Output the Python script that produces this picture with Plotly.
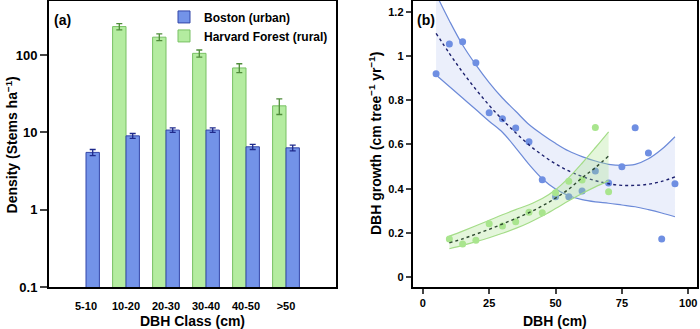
import plotly.graph_objects as go
from plotly.subplots import make_subplots

# ---------------- Panel (a) data ----------------
dbh_classes = ["5-10", "10-20", "20-30", "30-40", "40-50", ">50"]
boston_density = [5.5, 9.0, 10.7, 10.7, 6.5, 6.3]
boston_err = [0.5, 0.65, 0.7, 0.7, 0.5, 0.55]
harvard_density = [None, 233, 170, 105, 68, 22]
harvard_err = [0, 22, 17, 11, 9, 5]
density_ticks = [0.1, 1, 10, 100]
density_ticktext = ["0.1", "1", "10", "100"]

# ---------------- Panel (b) data ----------------
boston_dbh = [5, 10, 15, 20, 25, 30, 35, 40, 45, 50, 55, 60, 65, 70, 75, 80, 85, 90, 95]
boston_growth = [0.92, 1.055, 1.065, 0.97, 0.743, 0.716, 0.674, 0.612, 0.44, 0.363,
                 0.363, 0.389, 0.48, 0.425, 0.499, 0.676, 0.561, 0.172, 0.422]
harvard_dbh = [10, 15, 20, 25, 30, 35, 40, 45, 50, 55, 60, 65, 70]
harvard_growth = [0.172, 0.149, 0.167, 0.241, 0.231, 0.25, 0.293, 0.291, 0.381,
                  0.433, 0.439, 0.677, 0.386]

boston_fit = [1.103, 1.012, 0.927, 0.849, 0.777, 0.712, 0.653, 0.598, 0.552, 0.512,
              0.48, 0.455, 0.436, 0.422, 0.415, 0.415, 0.42, 0.433, 0.453]
boston_ci_hi = [1.28, 1.16, 1.05, 0.96, 0.88, 0.81, 0.75, 0.69, 0.645, 0.605,
                0.57, 0.545, 0.525, 0.51, 0.505, 0.51, 0.535, 0.578, 0.635]
boston_ci_lo = [0.914, 0.862, 0.81, 0.758, 0.705, 0.655, 0.585, 0.51, 0.445, 0.398,
                0.368, 0.35, 0.34, 0.334, 0.326, 0.318, 0.305, 0.29, 0.273]

harvard_fit = [0.155, 0.173, 0.194, 0.216, 0.24, 0.265, 0.291, 0.322, 0.357, 0.398,
               0.449, 0.495, 0.548]
harvard_ci_hi = [0.185, 0.208, 0.232, 0.257, 0.282, 0.305, 0.327, 0.355, 0.395, 0.45,
                 0.515, 0.585, 0.657]
harvard_ci_lo = [0.128, 0.143, 0.16, 0.178, 0.198, 0.22, 0.246, 0.276, 0.31, 0.345,
                 0.378, 0.408, 0.435]

growth_ticks = [0, 0.2, 0.4, 0.6, 0.8, 1, 1.2]
growth_ticktext = ["0", "0.2", "0.4", "0.6", "0.8", "1", "1.2"]
dbh_ticks = [0, 25, 50, 75, 100]

FONT = "Liberation Sans, Arial, Helvetica, sans-serif"
BLUE = "#7393e8"
BLUE_EDGE = "#3346a8"
GREEN = "#b4eca0"
GREEN_EDGE = "#79c064"
DOT_BLUE = "#6f8fe2"
DOT_GREEN = "#a9e58e"

fig = make_subplots(rows=1, cols=2)

# Panel (a) bars: Harvard first (left), Boston second (right)
fig.add_trace(go.Bar(
    x=dbh_classes, y=harvard_density, name="Harvard Forest (rural)",
    marker=dict(color=GREEN, line=dict(color=GREEN_EDGE, width=1)),
    error_y=dict(type="data", array=harvard_err, color="#4f8c3a", thickness=1.3, width=3),
), row=1, col=1)
fig.add_trace(go.Bar(
    x=dbh_classes, y=boston_density, name="Boston (urban)",
    marker=dict(color=BLUE, line=dict(color=BLUE_EDGE, width=1)),
    error_y=dict(type="data", array=boston_err, color="#1f2a8c", thickness=1.3, width=3),
), row=1, col=1)

# Panel (b): Boston band
fig.add_trace(go.Scatter(x=boston_dbh, y=boston_ci_lo, mode="lines",
                         line=dict(color="#6c8ad8", width=1.2, shape="spline"),
                         showlegend=False), row=1, col=2)
fig.add_trace(go.Scatter(x=boston_dbh, y=boston_ci_hi, mode="lines",
                         line=dict(color="#6c8ad8", width=1.2, shape="spline"),
                         fill="tonexty", fillcolor="rgba(120,150,225,0.15)",
                         showlegend=False), row=1, col=2)
fig.add_trace(go.Scatter(x=boston_dbh, y=boston_growth, mode="markers",
                         marker=dict(color=DOT_BLUE, size=7),
                         showlegend=False), row=1, col=2)
fig.add_trace(go.Scatter(x=boston_dbh, y=boston_fit, mode="lines",
                         line=dict(color="#1c206e", width=1.4, dash="dot", shape="spline"),
                         showlegend=False), row=1, col=2)
# Harvard band
fig.add_trace(go.Scatter(x=harvard_dbh, y=harvard_ci_lo, mode="lines",
                         line=dict(color="#a4dc88", width=1.2, shape="spline"),
                         showlegend=False), row=1, col=2)
fig.add_trace(go.Scatter(x=harvard_dbh, y=harvard_ci_hi, mode="lines",
                         line=dict(color="#a4dc88", width=1.2, shape="spline"),
                         fill="tonexty", fillcolor="rgba(165,225,135,0.3)",
                         showlegend=False), row=1, col=2)
fig.add_trace(go.Scatter(x=harvard_dbh, y=harvard_growth, mode="markers",
                         marker=dict(color=DOT_GREEN, size=7),
                         showlegend=False), row=1, col=2)
fig.add_trace(go.Scatter(x=harvard_dbh, y=harvard_fit, mode="lines",
                         line=dict(color="#2e4a30", width=1.4, dash="dot", shape="spline"),
                         showlegend=False), row=1, col=2)

axis_common = dict(showline=True, linecolor="black", linewidth=2, mirror=True,
                   showgrid=False, zeroline=False)

fig.update_xaxes(domain=[0.07, 0.48], range=[-0.925, 6.25], ticks="outside", ticklen=8,
                 tickcolor="rgba(0,0,0,0)",
                 tickfont=dict(family=FONT, size=11, color="black", weight="bold"),
                 **axis_common, row=1, col=1)
fig.update_yaxes(type="log", range=[-1, 2.698], tickvals=density_ticks,
                 ticktext=density_ticktext, ticks="outside", ticklen=7, tickwidth=1.5,
                 tickfont=dict(family=FONT, size=13, color="black", weight="bold"),
                 **axis_common, row=1, col=1)
fig.update_xaxes(domain=[0.5896, 0.9961], range=[-3.8, 103.4], tickvals=dbh_ticks,
                 ticks="outside", ticklen=5, tickwidth=1.5,
                 tickfont=dict(family=FONT, size=11, color="black", weight="bold"),
                 **axis_common, row=1, col=2)
fig.update_yaxes(range=[-0.045, 1.249], tickvals=growth_ticks, ticktext=growth_ticktext,
                 ticks="outside", ticklen=5, tickwidth=1.5,
                 tickfont=dict(family=FONT, size=11, color="black", weight="bold"),
                 **axis_common, row=1, col=2)

title_font = dict(family=FONT, size=14, color="black", weight="bold")
annos = [
    dict(text="(a)", xref="x domain", yref="y domain", x=0.012, y=0.935,
         xanchor="left", yanchor="middle", showarrow=False, font=title_font),
    dict(text="(b)", xref="x2 domain", yref="y2 domain", x=0.008, y=0.935,
         xanchor="left", yanchor="middle", showarrow=False, font=title_font),
    dict(text="DBH Class (cm)", xref="paper", yref="paper", x=192 / 700, y=-34 / 286,
         xanchor="center", yanchor="middle", showarrow=False, font=title_font),
    dict(text="DBH (cm)", xref="paper", yref="paper", x=555 / 700, y=-34 / 286,
         xanchor="center", yanchor="middle", showarrow=False, font=title_font),
    dict(text="Density (Stems ha<sup>−1</sup>)", xref="paper", yref="paper",
         x=12 / 700, y=0.495, textangle=-90, xanchor="center", yanchor="middle",
         showarrow=False, font=title_font),
    dict(text="DBH growth (cm tree<sup>−1</sup> yr<sup>−1</sup>)", xref="paper",
         yref="paper", x=375 / 700, y=0.5, textangle=-90, xanchor="center",
         yanchor="middle", showarrow=False, font=title_font),
]

fig.update_layout(
    width=700, height=329,
    margin=dict(l=0, r=0, t=1, b=42),
    paper_bgcolor="white", plot_bgcolor="white",
    barmode="group", bargap=0.33, bargroupgap=0,
    annotations=annos,
    legend=dict(x=164 / 700, y=0.995, xanchor="left", yanchor="top",
                traceorder="reversed",
                bgcolor="rgba(0,0,0,0)", tracegroupgap=0,
                font=dict(family=FONT, size=12, color="black", weight="bold")),
    font=dict(family=FONT, color="black"),
)

fig.write_html("out.html", config={"displayModeBar": False},
               post_script="document.body.style.margin='0px';document.body.style.overflow='hidden';")
